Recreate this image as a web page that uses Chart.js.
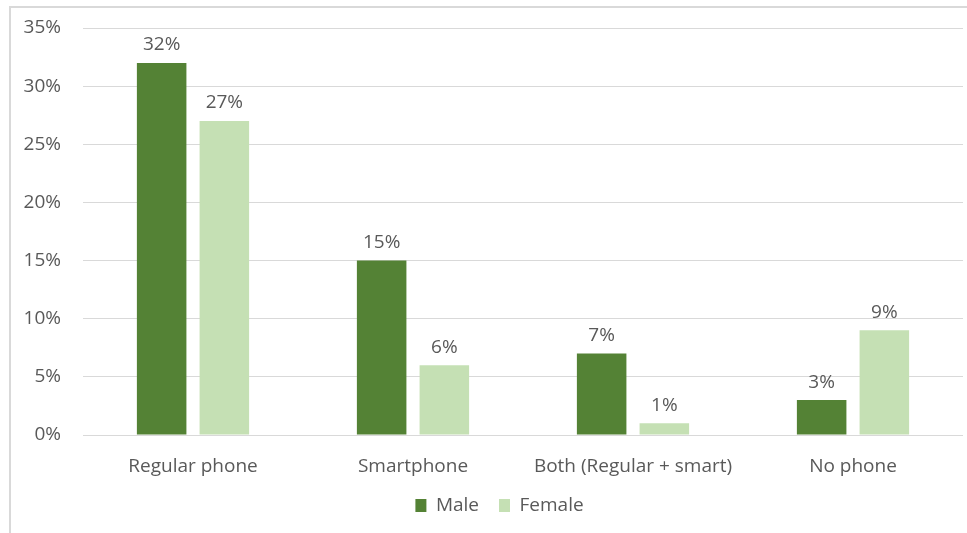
<!DOCTYPE html>
<html>
<head>
<meta charset="utf-8">
<script src="https://cdn.jsdelivr.net/npm/chart.js@4"></script>
<style>
  html, body { margin: 0; padding: 0; background: #fff; overflow: hidden; }
  #wrap { position: relative; width: 967px; height: 533px; overflow: hidden; }
  #frame { position: absolute; left: 9px; top: 6px; right: -2px; bottom: -2px; border: 2px solid #d9d9d9; }
  canvas { position: absolute; left: 0; top: 0; }
</style>
</head>
<body>
<div id="wrap">
  <div id="frame"></div>
  <canvas id="chart" width="967" height="533"></canvas>
</div>
<script>
// données du graphique
const categories = ['Regular phone', 'Smartphone', 'Both (Regular + smart)', 'No phone'];
const maleValues = [32, 15, 7, 3];
const femaleValues = [27, 6, 1, 9];
const yTicks = [0, 5, 10, 15, 20, 25, 30, 35];

const textColor = '#595959';
const fontFamily = "'Open Sans', 'DejaVu Sans', sans-serif";
const fontSize = 19;

// étiquettes au-dessus des barres
const valueLabels = {
    id: 'valueLabels',
    afterDatasetsDraw(chart) {
        const ctx = chart.ctx;
        ctx.save();
        ctx.font = fontSize + 'px ' + fontFamily;
        ctx.fillStyle = textColor;
        ctx.textAlign = 'center';
        ctx.textBaseline = 'middle';
        chart.data.datasets.forEach((ds, i) => {
            chart.getDatasetMeta(i).data.forEach((bar, j) => {
                ctx.fillText(ds.data[j] + '%', bar.x, bar.y - 18);
            });
        });
        ctx.restore();
    }
};

// décaler la légende un peu vers la droite (centrée vers x=500)
const legendShift = {
    id: 'legendShift',
    afterLayout(chart) {
        if (chart.legend) {
            chart.legend.left += 18;
            chart.legend.right += 18;
        }
    }
};

const ctx = document.getElementById('chart').getContext('2d');
new Chart(ctx, {
    type: 'bar',
    data: {
        labels: categories,
        datasets: [
            { label: 'Male', data: maleValues, backgroundColor: '#548235' },
            { label: 'Female', data: femaleValues, backgroundColor: '#c5e0b4' },
        ],
    },
    options: {
        responsive: false,
        animation: false,
        layout: { padding: { top: 28, right: 4, bottom: 8, left: 0 } },
        datasets: { bar: { categoryPercentage: 0.57, barPercentage: 0.79 } },
        plugins: {
            legend: {
                position: 'bottom',
                labels: {
                    color: textColor,
                    font: { size: fontSize, family: fontFamily },
                    boxWidth: 11,
                    boxHeight: 13,
                    padding: 20,
                },
            },
            tooltip: { enabled: false },
        },
        scales: {
            x: {
                grid: { display: false },
                border: { display: false },
                ticks: { color: textColor, font: { size: fontSize, family: fontFamily }, padding: 12 },
                afterFit(scale) { scale.height = 41; },
            },
            y: {
                min: 0,
                max: 35,
                afterBuildTicks(scale) { scale.ticks = yTicks.map(v => ({ value: v })); },
                grid: { color: '#d9d9d9', lineWidth: 1, drawTicks: false },
                border: { display: false },
                ticks: {
                    color: textColor,
                    font: { size: fontSize, family: fontFamily },
                    padding: 22,
                    callback: v => v + '%',
                },
                afterFit(scale) {
                    scale.width = 83;
                    scale.paddingTop = 0;
                    scale.paddingBottom = 0;
                },
            },
        },
    },
    plugins: [valueLabels, legendShift],
});
</script>
</body>
</html>
